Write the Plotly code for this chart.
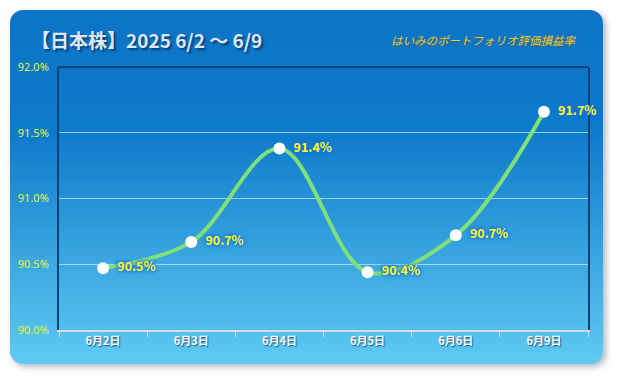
import base64
import plotly.graph_objects as go

# ---- data ----
categories = ["6月2日", "6月3日", "6月4日", "6月5日", "6月6日", "6月9日"]
values = [90.47, 90.67, 91.38, 90.44, 90.72, 91.66]
y_ticks = [90.0, 90.5, 91.0, 91.5, 92.0]
title_text = "【日本株】2025 6/2 ～ 6/9"
subtitle_text = "はいみのポートフォリオ評価損益率"

W, H = 617, 380
L, R, T, B = 59, 29, 67, 50
PW, PH = W - L - R, H - T - B


def px_x(px):
    return (px - L) / PW


def px_y(py):
    return (H - B - py) / PH


# background card as svg (gradient + rounded corners + shadow)
svg = f"""<svg xmlns='http://www.w3.org/2000/svg' width='{W}' height='{H}' viewBox='0 0 {W} {H}'>
<defs>
<linearGradient id='g' x1='0' y1='0' x2='0' y2='1'>
<stop offset='0' stop-color='#0b74c6'/>
<stop offset='0.35' stop-color='#0f7bcb'/>
<stop offset='0.7' stop-color='#3aa6e0'/>
<stop offset='1' stop-color='#5ecbf2'/>
</linearGradient>
<filter id='s' x='-5%' y='-5%' width='115%' height='115%'>
<feDropShadow dx='3' dy='3' stdDeviation='3' flood-color='#8a9aae' flood-opacity='0.7'/>
</filter>
</defs>
<rect x='10' y='10' width='593' height='354' rx='13' ry='13' fill='url(#g)' filter='url(#s)'/>
</svg>"""
svg_uri = "data:image/svg+xml;base64," + base64.b64encode(svg.encode()).decode()

labels = [f"  {v:.1f}%" for v in values]

fig = go.Figure()
fig.add_trace(go.Scatter(
    x=categories, y=values,
    mode="lines+markers+text",
    line=dict(color="#7fdf78", width=4, shape="spline", smoothing=1.0),
    marker=dict(color="white", size=12),
    text=labels,
    textposition="middle right",
    textfont=dict(family="Noto Sans CJK JP", size=12.5, color="#ffff1a", weight="bold",
                  shadow="0 0 3px #1f6fe0, 0 0 3px #1f6fe0, 0 0 5px #1f6fe0"),
    cliponaxis=False,
    hoverinfo="skip",
))

fig.update_layout(
    width=W, height=H,
    margin=dict(l=L, r=R, t=T, b=B),
    paper_bgcolor="white",
    plot_bgcolor="rgba(0,0,0,0)",
    showlegend=False,
    images=[dict(source=svg_uri, xref="paper", yref="paper",
                 x=px_x(0), y=px_y(0), sizex=W / PW, sizey=H / PH,
                 xanchor="left", yanchor="top", sizing="stretch", layer="below")],
    xaxis=dict(
        type="category", range=[-0.5, len(categories) - 0.5],
        showgrid=False, showline=True, linecolor="#d6dde5", linewidth=2,
        ticks="outside", ticklen=5, tickcolor="#d6dde5", tickson="boundaries",
        tickfont=dict(family="Noto Sans CJK JP", size=11, color="white", weight="bold",
                      shadow="1px 1px 1px rgba(0,40,90,0.7)"),
        zeroline=False, layer="below traces",
    ),
    yaxis=dict(
        range=[90.0, 92.0], tickvals=y_ticks,
        ticktext=[f"{v:.1f}%" for v in y_ticks],
        showgrid=True, gridcolor="rgba(200,230,255,0.75)", gridwidth=1,
        showline=True, mirror=True, linecolor="#0a4176", linewidth=2,
        ticks="", ticklabelstandoff=6,
        tickfont=dict(family="Noto Sans", size=11, color="#e6f33c"),
        zeroline=False, layer="below traces",
    ),
    shapes=[dict(type="line", xref="paper", yref="paper", x0=0, x1=1, y0=1, y1=1,
                 line=dict(color="#0a4176", width=2), layer="below")],
    annotations=[
        dict(text=title_text, xref="paper", yref="paper", x=px_x(29), y=px_y(40),
             xanchor="left", yanchor="middle", showarrow=False,
             font=dict(family="Noto Sans CJK JP", size=19, color="#dfe6ef", weight="bold",
                       shadow="2px 2px 2px rgba(0,30,70,0.6)")),
        dict(text=subtitle_text, xref="paper", yref="paper", x=px_x(578), y=px_y(40),
             xanchor="right", yanchor="middle", showarrow=False,
             font=dict(family="Noto Sans CJK JP", size=11.5, color="#f7c820", style="italic",
                       shadow="0 2px 2px rgba(120,80,0,0.35)")),
    ],
)

fig.write_html("out.html", config={"displayModeBar": False},
               post_script="document.body.style.margin='0';")
